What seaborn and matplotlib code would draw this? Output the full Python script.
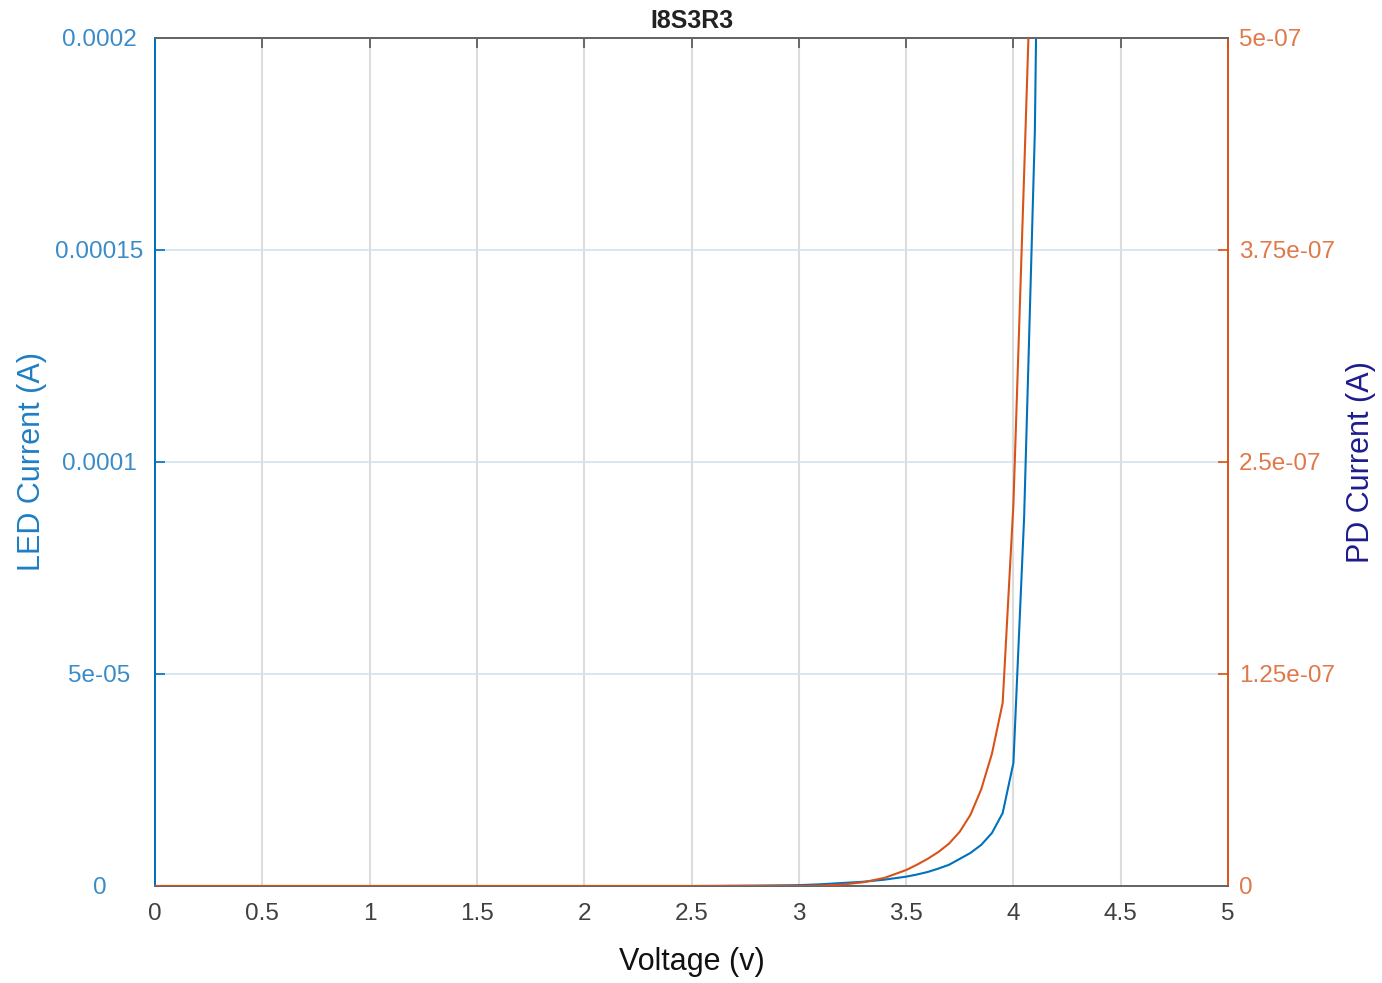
import matplotlib
matplotlib.use("Agg")
import matplotlib.pyplot as plt
import seaborn as sns
import pandas as pd

# ---- data ----
voltage = [0.0, 0.5, 1.0, 1.5, 2.0, 2.5, 2.8, 3.0, 3.1, 3.2, 3.3, 3.4, 3.5,
           3.55, 3.6, 3.65, 3.7, 3.75, 3.8, 3.85, 3.9, 3.95, 4.0, 4.05, 4.1, 4.15]
led_current = [0.0, 0.0, 0.0, 0.0, 0.0, 0.0, 1e-7, 2e-7, 4e-7, 7e-7, 1.0e-6, 1.5e-6, 2.2e-6,
               2.7e-6, 3.3e-6, 4.1e-6, 5.0e-6, 6.4e-6, 7.8e-6, 9.7e-6, 1.25e-5, 1.72e-5,
               2.9e-5, 8.7e-5, 1.78e-4, 3.8e-4]
pd_current = [0.0, 0.0, 0.0, 0.0, 0.0, 0.0, 0.0, 0.0, 2e-10, 8e-10, 2.2e-9, 4.8e-9, 9.4e-9,
              1.25e-8, 1.6e-8, 2.0e-8, 2.5e-8, 3.2e-8, 4.2e-8, 5.7e-8, 7.8e-8, 1.08e-7,
              2.25e-7, 4.2e-7, 6.2e-7, 8.5e-7]

x_ticks = [0, 0.5, 1, 1.5, 2, 2.5, 3, 3.5, 4, 4.5, 5]
x_tick_labels = ["0", "0.5", "1", "1.5", "2", "2.5", "3", "3.5", "4", "4.5", "5"]
left_ticks = [0, 5e-5, 1e-4, 1.5e-4, 2e-4]
left_tick_labels = ["0", "5e-05", "0.0001", "0.00015", "0.0002"]
right_ticks = [0, 1.25e-7, 2.5e-7, 3.75e-7, 5e-7]
right_tick_labels = ["0", "1.25e-07", "2.5e-07", "3.75e-07", "5e-07"]

title = "I8S3R3"
xlabel = "Voltage (v)"
left_label = "LED Current (A)"
right_label = "PD Current (A)"

df = pd.DataFrame({"V": voltage, "LED": led_current, "PD": pd_current})

sns.set_style("white")
plt.rcParams["font.family"] = ["Liberation Sans", "DejaVu Sans"]

BLUE = "#0072BD"
BLUE_TXT = "#3a8cc8"
ORANGE = "#D95319"
ORANGE_TXT = "#e0784a"
NAVY = "#1c1c8e"
GRAY_TXT = "#404040"

fig = plt.figure(figsize=(13.82, 9.83), dpi=100)
ax = fig.add_axes([155 / 1382, 1 - 886 / 983, (1228 - 155) / 1382, (886 - 38) / 983])
ax2 = ax.twinx()

sns.lineplot(data=df, x="V", y="LED", ax=ax, color=BLUE, linewidth=1.5, zorder=3)
sns.lineplot(data=df, x="V", y="PD", ax=ax2, color=ORANGE, linewidth=1.5, zorder=3)

ax.set_xlim(0, 5)
ax.set_ylim(0, 2e-4)
ax2.set_ylim(0, 5e-7)

ax.set_xticks(x_ticks)
ax.set_xticklabels(x_tick_labels)
ax.set_yticks(left_ticks)
ax.set_yticklabels(left_tick_labels)
ax2.set_yticks(right_ticks)
ax2.set_yticklabels(right_tick_labels)

# grids: vertical gray, horizontal light blue
ax.grid(False)
ax2.grid(False)
for xv in x_ticks[1:-1]:
    ax.axvline(xv, color="#dcdcdc", linewidth=1.5, zorder=0)
for yv in left_ticks[1:-1]:
    ax.axhline(yv, color="#d2e3f2", linewidth=1.2, zorder=0)

ax.tick_params(axis="x", direction="in", length=7, width=1.2, color="#555555",
               labelsize=17.5, labelcolor=GRAY_TXT, top=True, pad=12)
ax.tick_params(axis="y", direction="in", length=7, width=1.2, color=BLUE,
               labelsize=17.5, labelcolor=BLUE_TXT, pad=40)
ax2.tick_params(axis="y", direction="in", length=7, width=1.2, color=ORANGE,
                labelsize=17.5, labelcolor=ORANGE_TXT, pad=8)
for lbl in ax.get_yticklabels():
    lbl.set_horizontalalignment("center")

for a in (ax, ax2):
    a.spines["top"].set_color("#666666")
    a.spines["bottom"].set_color("#666666")
    a.spines["left"].set_color(BLUE)
    a.spines["right"].set_color(ORANGE)
    for s in a.spines.values():
        s.set_linewidth(1.4)
ax.spines["right"].set_visible(False)

ax.set_xlabel(xlabel, fontsize=22, color="#111111", labelpad=16)
ax.set_ylabel(left_label, fontsize=22, color="#1f7ec4", labelpad=6)
ax2.set_ylabel(right_label, fontsize=22, color=NAVY, labelpad=8)
ax.set_title(title, fontsize=18, fontweight="bold", color="#222222", pad=7)

fig.savefig("out.png", dpi=100, facecolor="white")
